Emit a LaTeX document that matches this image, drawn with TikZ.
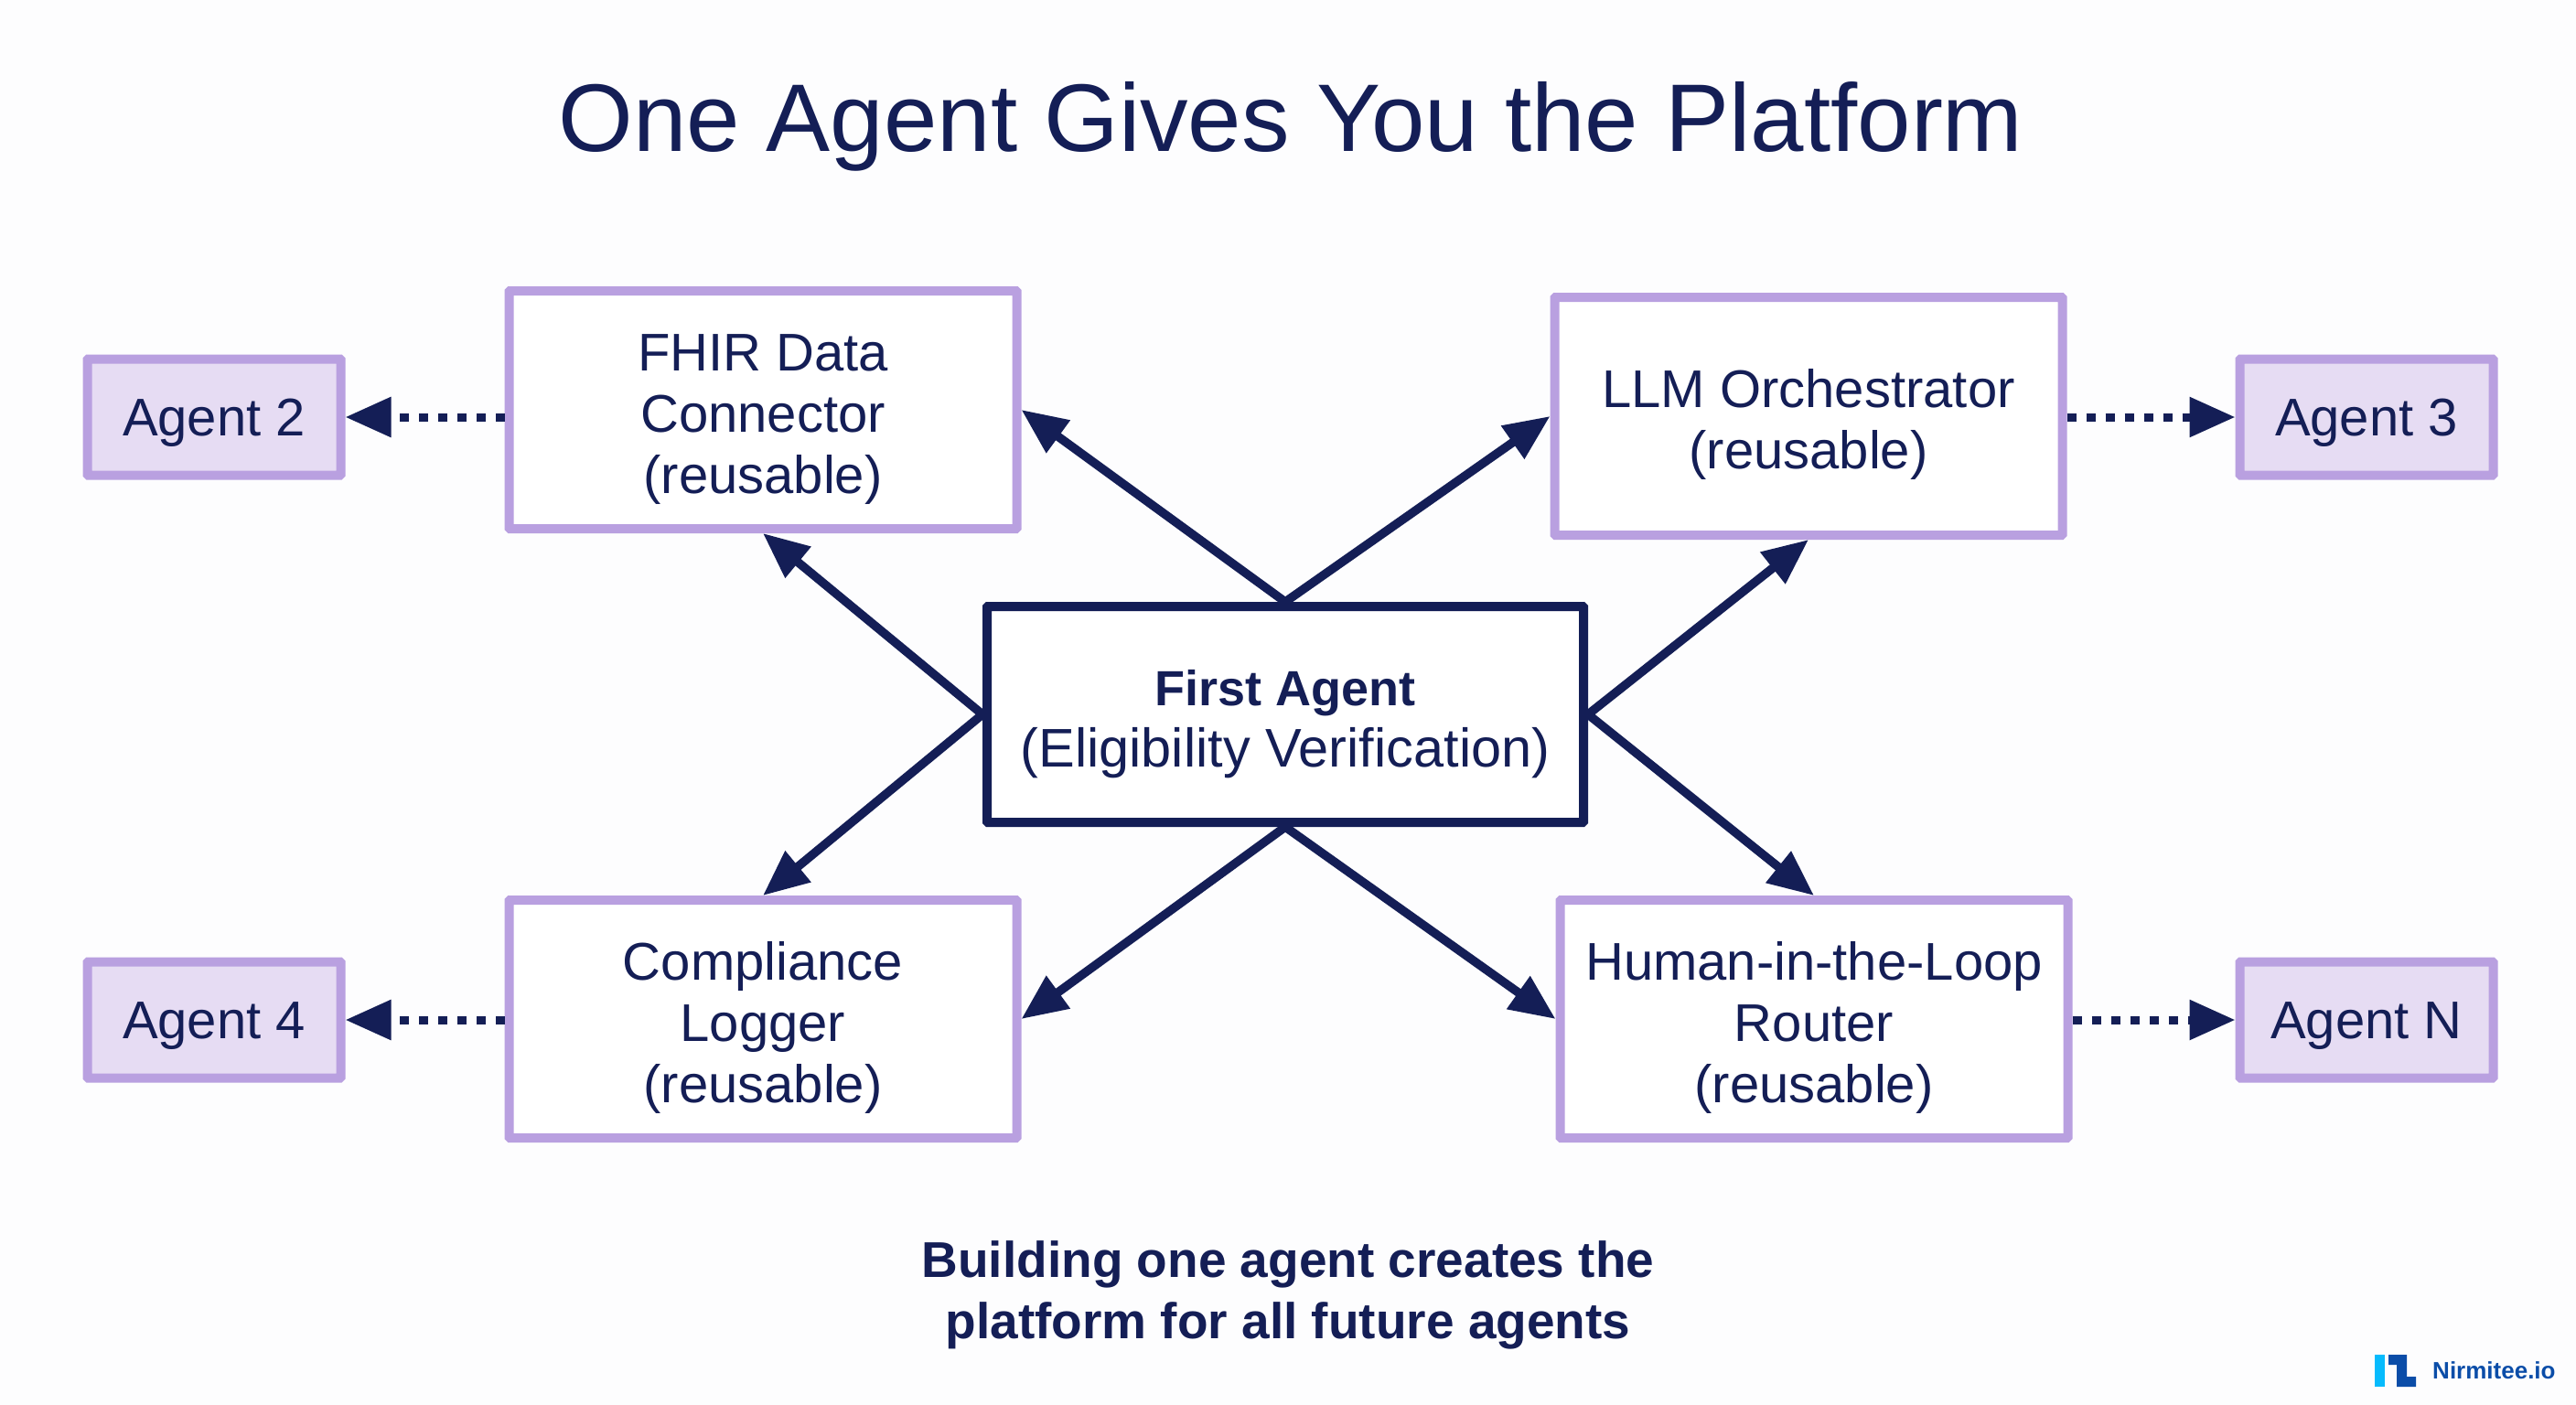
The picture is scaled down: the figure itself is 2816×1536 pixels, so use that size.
\documentclass[tikz,border=0pt]{standalone}
\usepackage{fontspec}
\setmainfont{Liberation Sans}
\usetikzlibrary{arrows.meta}
\definecolor{navy}{HTML}{141E56}
\definecolor{lilac}{HTML}{B9A0E0}
\definecolor{lilacfill}{HTML}{E6DCF3}
\definecolor{paper}{HTML}{FDFDFE}
\definecolor{logoblue}{HTML}{0B4DA8}
\definecolor{logocyan}{HTML}{06BBFD}
\newcommand{\dropline}{\rule{0pt}{60pt}}
\tikzset{
    bodytext/.style={text=navy, align=center, font=\fontsize{58}{67}\selectfont},
    reusebox/.style={bodytext, draw=lilac, line width=10pt, fill=white, rounded corners=1pt,
        minimum width=555pt, minimum height=260pt},
    agentbox/.style={bodytext, draw=lilac, line width=10pt, fill=lilacfill, rounded corners=1pt,
        minimum width=277pt, minimum height=127pt},
    firstbox/.style={bodytext, draw=navy, line width=10pt, fill=white, rounded corners=1pt,
        font=\fontsize{59.5}{67}\selectfont,
        minimum width=652pt, minimum height=236pt},
    solidarrow/.style={draw=navy, line width=9.5pt, -{Triangle[length=50pt, width=42pt]}},
    dotarrow/.style={draw=navy, line width=9pt, dash pattern=on 10pt off 11pt,
        -{Triangle[length=50pt, width=42pt]}}
}
\begin{document}
\begin{tikzpicture}
        [x=1pt, y=-1pt]
        \fill[paper] (0,0) rectangle (2816,1536);
        \useasboundingbox (0,0) rectangle (2816,1536);
        % title and caption
        \node[text=navy, font=\fontsize{105}{120}\selectfont] (title) at (1411,138)
            {One Agent Gives You the Platform};
        \node[bodytext, font=\fontsize{55}{67}\bfseries\selectfont] (caption) at (1408,1416)
            {Building one agent creates the\\platform for all future agents};
        % boxes
        \node[firstbox] (first) at (1405,781)
            {\dropline{\fontsize{54}{67}\bfseries\selectfont First Agent}\\(Eligibility Verification)};
        \node[reusebox] (fhir) at (834,448) {\dropline FHIR Data\\Connector\\(reusable)};
        \node[reusebox] (llm) at (1977,455) {\dropline LLM Orchestrator\\(reusable)};
        \node[reusebox] (logger) at (834,1114) {\dropline Compliance\\Logger\\(reusable)};
        \node[reusebox] (router) at (1983,1114) {\dropline Human-in-the-Loop\\Router\\(reusable)};
        \node[agentbox] (agenttwo) at (234,456) {\rule{0pt}{54pt}Agent 2};
        \node[agentbox] (agentthree) at (2587,456) {\rule{0pt}{54pt}Agent 3};
        \node[agentbox] (agentfour) at (234,1115) {\rule{0pt}{54pt}Agent 4};
        \node[agentbox] (agentn) at (2587,1115) {\rule{0pt}{54pt}Agent N};
        % arrows out of the first agent
        \draw[solidarrow] (first.north) -- (fhir.east);
        \draw[solidarrow] (first.north) -- (llm.west);
        \draw[solidarrow] (first.west) -- (fhir.south);
        \draw[solidarrow] (first.east) -- (llm.south);
        \draw[solidarrow] (first.west) -- (logger.north);
        \draw[solidarrow] (first.east) -- (router.north);
        \draw[solidarrow] (first.south) -- (logger.east);
        \draw[solidarrow] (first.south) -- (router.west);
        % dotted arrows to the later agents
        \draw[dotarrow] (fhir.west |- agenttwo.east) -- (agenttwo.east);
        \draw[dotarrow] (llm.east |- agentthree.west) -- (agentthree.west);
        \draw[dotarrow] (logger.west |- agentfour.east) -- (agentfour.east);
        \draw[dotarrow] (router.east |- agentn.west) -- (agentn.west);
        % logo
        \fill[logocyan] (2596,1481) rectangle (2607,1516);
        \fill[logoblue] (2611,1481)--(2631,1481)--(2631,1505)--(2641,1505)--
            (2641,1516)--(2620,1516)--(2620,1492)--(2611,1492)--cycle;
        \node[text=logoblue, font=\fontsize{26}{30}\bfseries\selectfont, anchor=west, inner sep=0pt]
            (brand) at (2659,1498) {Nirmitee.io};
\end{tikzpicture}
\end{document}
